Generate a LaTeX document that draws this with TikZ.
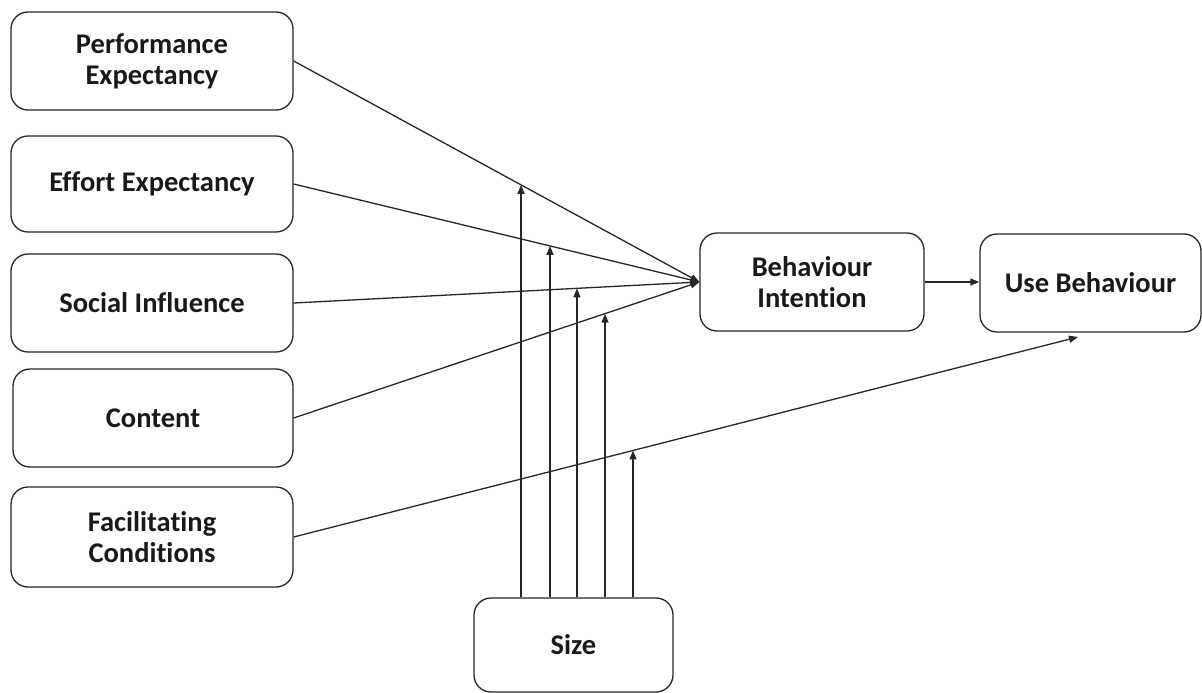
\documentclass[tikz,border=0pt]{standalone}
\usepackage{fontspec}
\setmainfont{Carlito}[Ligatures=NoCommon]
\usetikzlibrary{arrows.meta}
\begin{document}
\begin{tikzpicture}[x=1pt,y=-1pt,
  box/.style={draw=black!85, line width=1.3pt, rounded corners=17pt, align=center,
    font=\fontsize{28.5}{31}\selectfont\bfseries, text=black!90, inner sep=0pt},
  conn/.style={draw=black!85, line width=1.3pt, -{Triangle[length=9pt,width=7pt]}}
]
\useasboundingbox (0,0) rectangle (1202,693);
\node[box, minimum width=282pt, minimum height=98pt] (pe) at (152,61) {Performance\\Expectancy};
\node[box, minimum width=282pt, minimum height=96pt] (ee) at (152,184) {Effort Expectancy};
\node[box, minimum width=282pt, minimum height=98pt] (si) at (152,303) {Social Influence};
\node[box, minimum width=280pt, minimum height=98pt] (co) at (153,418) {Content};
\node[box, minimum width=282pt, minimum height=100pt] (fc) at (152,537) {Facilitating\\Conditions};
\node[box, minimum width=224pt, minimum height=98pt] (bi) at (812,282) {Behaviour\\Intention};
\node[box, minimum width=221pt, minimum height=98pt] (ub) at (1090.5,283) {Use Behaviour};
\node[box, minimum width=199pt, minimum height=94pt] (sz) at (573.5,645) {Size};

\coordinate (ubt) at (1078,337);
\draw[conn] (pe.east) -- (bi.west);
\draw[conn] (ee.east) -- (bi.west);
\draw[conn] (si.east) -- (bi.west);
\draw[conn] (co.east) -- (bi.west);
\draw[conn] (bi.east) -- (ub.west |- bi.east);
\draw[conn] (fc.east) -- (ubt);

\coordinate (m1) at (intersection cs: first line={(pe.east)--(bi.west)}, second line={(521,0)--(521,700)});
\coordinate (m2) at (intersection cs: first line={(ee.east)--(bi.west)}, second line={(550,0)--(550,700)});
\coordinate (m3) at (intersection cs: first line={(si.east)--(bi.west)}, second line={(577,0)--(577,700)});
\coordinate (m4) at (intersection cs: first line={(co.east)--(bi.west)}, second line={(605,0)--(605,700)});
\coordinate (m5) at (intersection cs: first line={(fc.east)--(ubt)}, second line={(633,0)--(633,700)});
\foreach \m in {m1,m2,m3,m4,m5}
  \draw[conn] (sz.north -| \m) -- (\m);
\end{tikzpicture}
\end{document}
